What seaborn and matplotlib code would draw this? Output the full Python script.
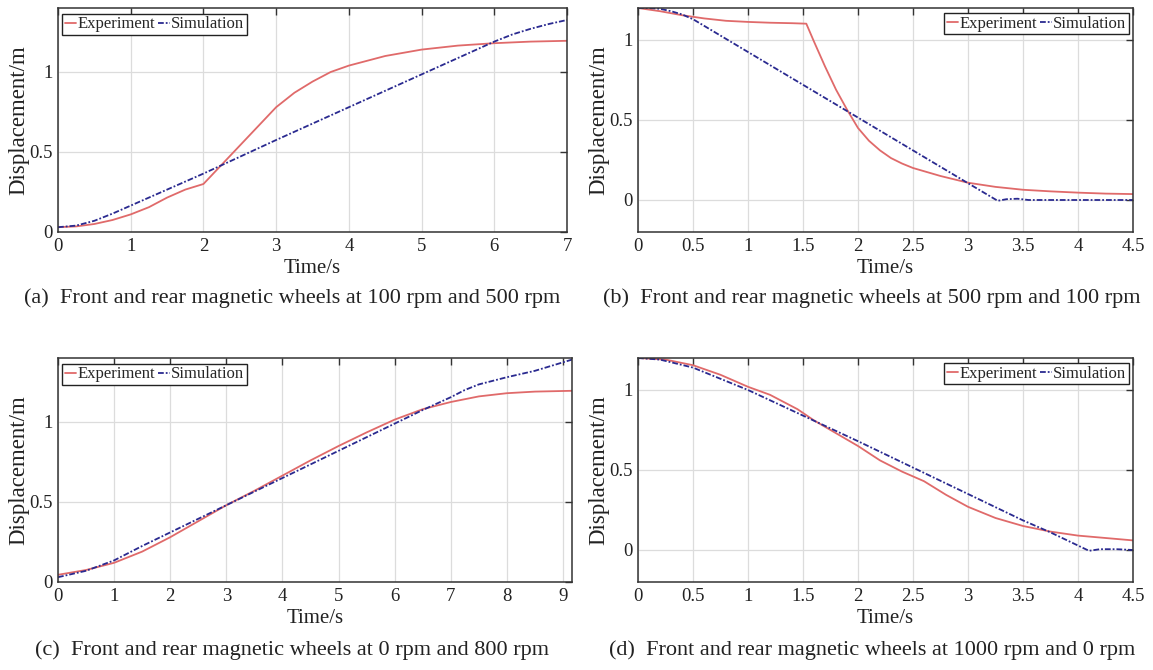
import numpy as np
import pandas as pd
import matplotlib
matplotlib.use("Agg")
import matplotlib.pyplot as plt
import seaborn as sns

# ---------------- data ----------------
ta_exp = [0, 0.25, 0.5, 0.75, 1.0, 1.25, 1.5, 1.75, 2.0, 2.25, 2.5, 2.75, 3.0, 3.25, 3.5, 3.75, 4.0, 4.5, 5.0, 5.5, 6.0, 6.5, 7.0]
ya_exp = [0.03, 0.035, 0.05, 0.075, 0.11, 0.155, 0.215, 0.265, 0.30, 0.42, 0.54, 0.66, 0.78, 0.87, 0.94, 1.0, 1.04, 1.10, 1.14, 1.165, 1.18, 1.19, 1.195]
ta_sim = [0, 0.25, 0.5, 0.75, 1.0, 1.5, 2.0, 3.0, 4.0, 5.0, 6.0, 6.25, 6.5, 6.75, 7.0]
ya_sim = [0.03, 0.04, 0.07, 0.115, 0.165, 0.265, 0.365, 0.575, 0.78, 0.985, 1.19, 1.235, 1.27, 1.30, 1.325]

tb_exp = [0, 0.2, 0.4, 0.6, 0.8, 1.0, 1.2, 1.4, 1.53, 1.6, 1.7, 1.8, 1.9, 2.0, 2.1, 2.2, 2.3, 2.4, 2.5, 2.75, 3.0, 3.25, 3.5, 3.75, 4.0, 4.25, 4.5]
yb_exp = [1.2, 1.18, 1.155, 1.135, 1.12, 1.113, 1.108, 1.105, 1.102, 0.99, 0.835, 0.69, 0.565, 0.45, 0.37, 0.31, 0.262, 0.228, 0.2, 0.15, 0.108, 0.082, 0.064, 0.054, 0.046, 0.04, 0.037]
tb_sim = [0, 0.1, 0.2, 0.3, 0.4, 0.5, 1.0, 1.5, 2.0, 2.5, 3.0, 3.27, 3.35, 3.45, 3.55, 4.0, 4.5]
yb_sim = [1.2, 1.2, 1.195, 1.18, 1.16, 1.13, 0.925, 0.72, 0.515, 0.31, 0.105, -0.005, 0.005, 0.008, 0.0, 0.0, 0.0]

tc_exp = [0, 0.5, 1, 1.5, 2, 2.5, 3, 3.5, 4, 4.5, 5, 5.5, 6, 6.5, 7, 7.5, 8, 8.5, 9.16]
yc_exp = [0.045, 0.075, 0.12, 0.19, 0.28, 0.38, 0.48, 0.57, 0.665, 0.76, 0.85, 0.935, 1.015, 1.08, 1.125, 1.16, 1.18, 1.19, 1.195]
tc_sim = [0, 0.5, 1, 1.5, 2, 2.5, 3, 3.5, 4, 4.5, 5, 5.5, 6, 6.5, 7, 7.25, 7.5, 8, 8.5, 9.16]
yc_sim = [0.03, 0.07, 0.135, 0.225, 0.31, 0.395, 0.48, 0.565, 0.65, 0.735, 0.82, 0.905, 0.99, 1.075, 1.155, 1.2, 1.235, 1.28, 1.32, 1.39]

td_exp = [0, 0.25, 0.5, 0.75, 1.0, 1.2, 1.45, 1.6, 1.75, 2.0, 2.2, 2.4, 2.6, 2.8, 3.0, 3.25, 3.5, 3.75, 4.0, 4.25, 4.5]
yd_exp = [1.2, 1.19, 1.155, 1.095, 1.02, 0.97, 0.88, 0.81, 0.75, 0.65, 0.56, 0.49, 0.43, 0.345, 0.27, 0.2, 0.15, 0.115, 0.09, 0.075, 0.06]
td_sim = [0, 0.2, 0.5, 1.0, 1.5, 2.0, 2.5, 3.0, 3.5, 3.75, 4.1, 4.2, 4.35, 4.5]
yd_sim = [1.2, 1.19, 1.14, 1.0, 0.84, 0.68, 0.515, 0.35, 0.185, 0.11, -0.005, 0.005, 0.005, 0.0]

captions = [
    "(a)  Front and rear magnetic wheels at 100 rpm and 500 rpm",
    "(b)  Front and rear magnetic wheels at 500 rpm and 100 rpm",
    "(c)  Front and rear magnetic wheels at 0 rpm and 800 rpm",
    "(d)  Front and rear magnetic wheels at 1000 rpm and 0 rpm",
]
x_label = "Time/s"
y_label = "Displacement/m"
series_names = ["Experiment", "Simulation"]

# ---------------- style ----------------
sns.set_theme(style="white")
plt.rcParams["font.family"] = ["Liberation Serif", "DejaVu Serif"]

RED = "#e06a6a"
BLUE = "#2a2a90"

W, H = 1153, 670
fig = plt.figure(figsize=(W / 100, H / 100), dpi=100)

def px_axes(l, t, r, b):
    return fig.add_axes([l / W, 1 - b / H, (r - l) / W, (b - t) / H])

panels = [
    dict(box=(58, 8, 567, 232), te=ta_exp, ye=ya_exp, ts=ta_sim, ys=ya_sim,
         xlim=(0, 7), ylim=(0, 1.4), xt=[0, 1, 2, 3, 4, 5, 6, 7], xtl=["0", "1", "2", "3", "4", "5", "6", "7"],
         yt=[0, 0.5, 1], ytl=["0", "0.5", "1"], loc="upper left", cap=(292, 298)),
    dict(box=(638, 8, 1133, 232), te=tb_exp, ye=yb_exp, ts=tb_sim, ys=yb_sim,
         xlim=(0, 4.5), ylim=(-0.2, 1.2), xt=[0, 0.5, 1, 1.5, 2, 2.5, 3, 3.5, 4, 4.5],
         xtl=["0", "0.5", "1", "1.5", "2", "2.5", "3", "3.5", "4", "4.5"],
         yt=[0, 0.5, 1], ytl=["0", "0.5", "1"], loc="upper right", cap=(872, 298)),
    dict(box=(58, 358, 572, 582), te=tc_exp, ye=yc_exp, ts=tc_sim, ys=yc_sim,
         xlim=(0, 9.16), ylim=(0, 1.4), xt=list(range(10)), xtl=[str(i) for i in range(10)],
         yt=[0, 0.5, 1], ytl=["0", "0.5", "1"], loc="upper left", cap=(292, 650)),
    dict(box=(638, 358, 1133, 582), te=td_exp, ye=yd_exp, ts=td_sim, ys=yd_sim,
         xlim=(0, 4.5), ylim=(-0.2, 1.2), xt=[0, 0.5, 1, 1.5, 2, 2.5, 3, 3.5, 4, 4.5],
         xtl=["0", "0.5", "1", "1.5", "2", "2.5", "3", "3.5", "4", "4.5"],
         yt=[0, 0.5, 1], ytl=["0", "0.5", "1"], loc="upper right", cap=(872, 650)),
]

for i, p in enumerate(panels):
    l, t, r, b = p["box"]
    ax = px_axes(l, t, r, b)
    sns.lineplot(x=p["te"], y=p["ye"], ax=ax, color=RED, lw=1.3, estimator=None,
                 sort=False, label=series_names[0])
    sns.lineplot(x=p["ts"], y=p["ys"], ax=ax, color=BLUE, lw=1.3, estimator=None,
                 sort=False, label=series_names[1], linestyle=(0, (3.2, 1.1, 1.0, 1.1)))
    ax.set_xlim(*p["xlim"])
    ax.set_ylim(*p["ylim"])
    ax.set_xticks(p["xt"])
    ax.set_xticklabels(p["xtl"])
    ax.set_yticks(p["yt"])
    ax.set_yticklabels(p["ytl"])
    ax.grid(True, color="#dcdcdc", lw=0.9)
    ax.set_axisbelow(True)
    for s in ax.spines.values():
        s.set_visible(True)
        s.set_color("#333333")
        s.set_linewidth(1.1)
    ax.tick_params(direction="in", top=True, right=True, length=5, width=1.0,
                   color="#333333", labelsize=13.5, labelcolor="#222222", pad=4)
    ax.set_xlabel(x_label, fontsize=15, color="#222222")
    ax.set_ylabel(y_label, fontsize=16.5, color="#222222")
    ax.xaxis.set_label_coords(0.5, -27 / (b - t))
    ax.yaxis.set_label_coords(-29 / (r - l), 0.5)
    if p["loc"] == "upper left":
        anchor = (4 / (r - l), 1 - 6 / (b - t))
    else:
        anchor = (1 - 4 / (r - l), 1 - 5 / (b - t))
    leg = ax.legend(loc=p["loc"], bbox_to_anchor=anchor, ncol=2, frameon=True, fancybox=False,
                    edgecolor="#222222", framealpha=1, fontsize=12, handlelength=0.7,
                    handletextpad=0.1, columnspacing=0.15, borderpad=0.15, borderaxespad=0)
    leg.get_frame().set_linewidth(1.0)
    fig.text(p["cap"][0] / W, 1 - p["cap"][1] / H, captions[i],
             ha="center", va="center", fontsize=16, color="#222222")

fig.savefig("out.png", dpi=100)
